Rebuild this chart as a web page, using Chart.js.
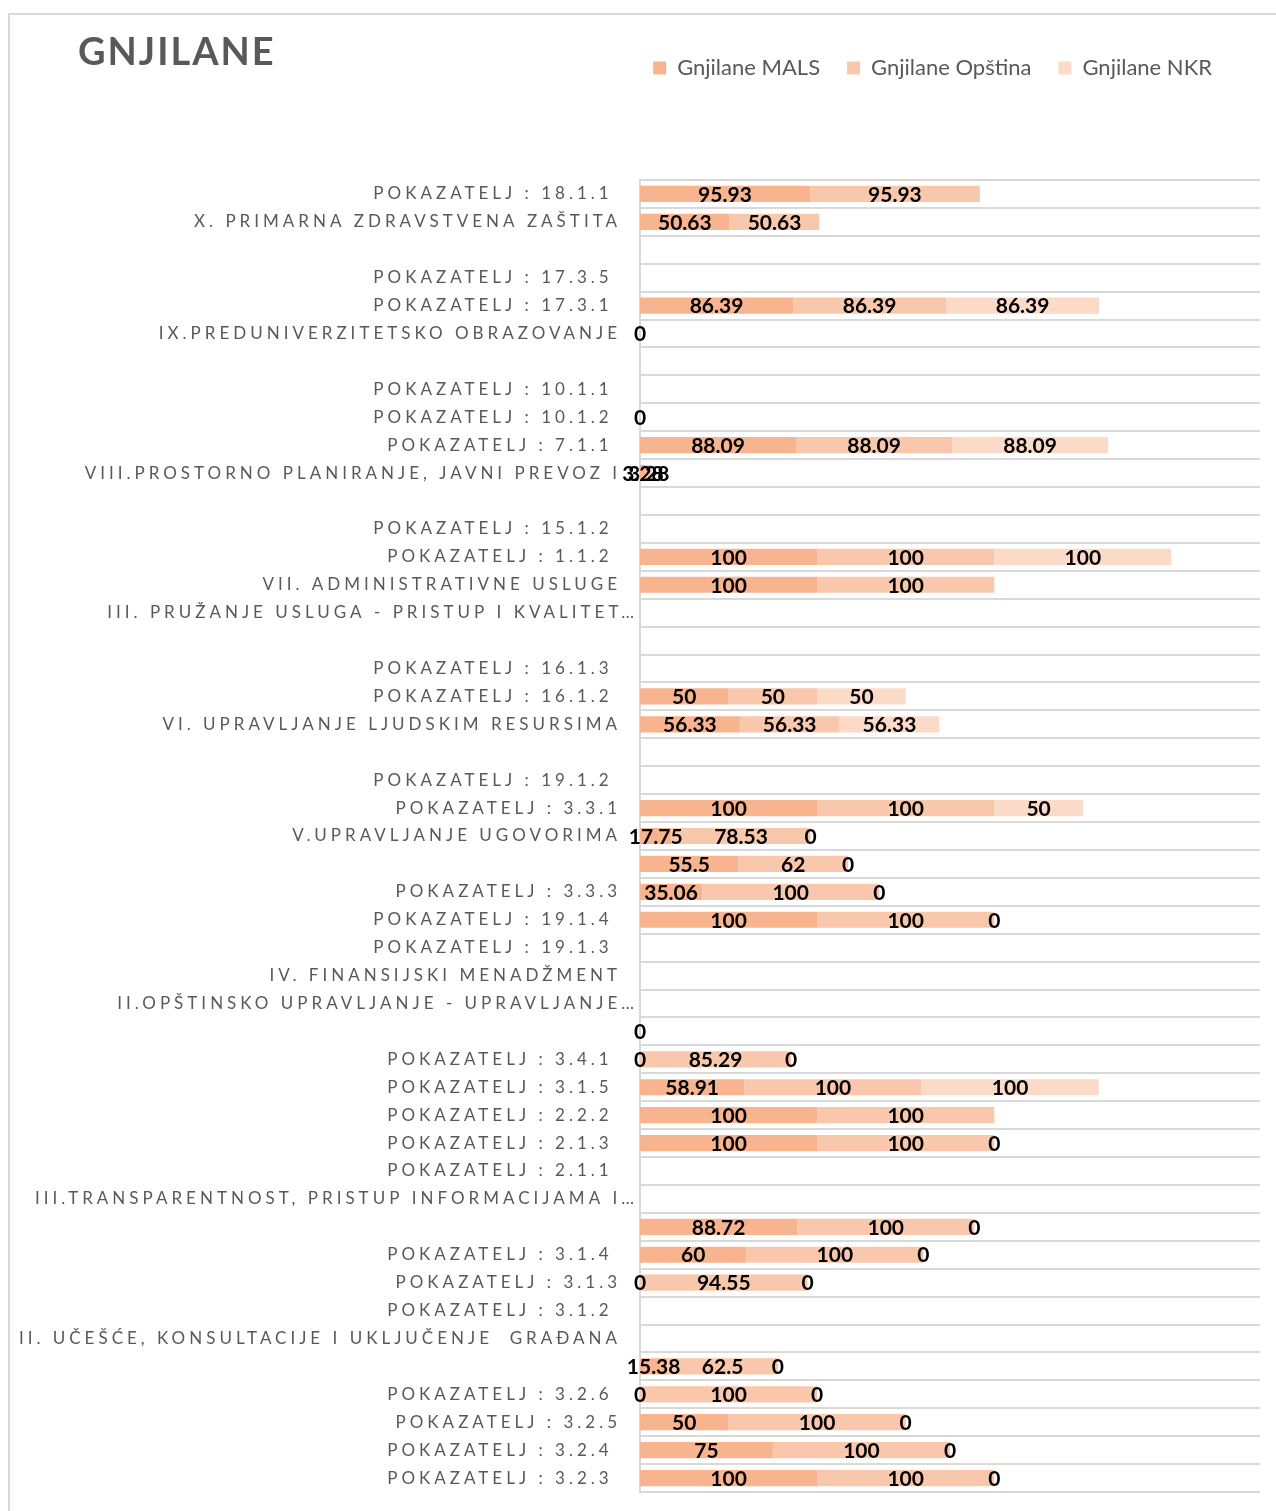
<!DOCTYPE html>
<html>
<head>
<meta charset="utf-8">
<script src="https://cdn.jsdelivr.net/npm/chart.js@4"></script>
<style>
  html, body { margin: 0; padding: 0; background: #ffffff; }
  #wrap { position: relative; width: 1276px; height: 1511px; }
</style>
</head>
<body>
<div id="wrap"><canvas id="c"></canvas></div>
<script>
const chartTitle = 'GNJILANE';
const seriesNames = ['Gnjilane MALS', 'Gnjilane Opština', 'Gnjilane NKR'];
const seriesColors = ['#F7B48E', '#F9C8AC', '#FBDAC8'];

const categories = [
  'POKAZATELJ : 18.1.1 ',
  'X. PRIMARNA ZDRAVSTVENA ZAŠTITA',
  '',
  'POKAZATELJ : 17.3.5 ',
  'POKAZATELJ : 17.3.1 ',
  'IX.PREDUNIVERZITETSKO OBRAZOVANJE',
  '',
  'POKAZATELJ : 10.1.1 ',
  'POKAZATELJ : 10.1.2 ',
  'POKAZATELJ : 7.1.1 ',
  'VIII.PROSTORNO PLANIRANJE, JAVNI PREVOZ I',
  '',
  'POKAZATELJ : 15.1.2 ',
  'POKAZATELJ : 1.1.2 ',
  'VII. ADMINISTRATIVNE USLUGE',
  'III. PRUŽANJE USLUGA - PRISTUP I KVALITET…',
  '',
  'POKAZATELJ : 16.1.3 ',
  'POKAZATELJ : 16.1.2 ',
  'VI. UPRAVLJANJE LJUDSKIM RESURSIMA',
  '',
  'POKAZATELJ : 19.1.2 ',
  'POKAZATELJ : 3.3.1',
  'V.UPRAVLJANJE UGOVORIMA',
  '',
  'POKAZATELJ : 3.3.3',
  'POKAZATELJ : 19.1.4 ',
  'POKAZATELJ : 19.1.3 ',
  'IV. FINANSIJSKI MENADŽMENT',
  'II.OPŠTINSKO UPRAVLJANJE - UPRAVLJANJE…',
  '',
  'POKAZATELJ : 3.4.1 ',
  'POKAZATELJ : 3.1.5 ',
  'POKAZATELJ : 2.2.2 ',
  'POKAZATELJ : 2.1.3 ',
  'POKAZATELJ : 2.1.1 ',
  'III.TRANSPARENTNOST, PRISTUP INFORMACIJAMA I…',
  '',
  'POKAZATELJ : 3.1.4 ',
  'POKAZATELJ : 3.1.3',
  'POKAZATELJ : 3.1.2 ',
  'II. UČEŠĆE, KONSULTACIJE I UKLJUČENJE  GRAĐANA',
  '',
  'POKAZATELJ : 3.2.6 ',
  'POKAZATELJ : 3.2.5',
  'POKAZATELJ : 3.2.4 ',
  'POKAZATELJ : 3.2.3 '
];

const malsValues = [
  95.93, 50.63, null, null, 86.39, 0, null, null, 0, 88.09,
  3.28, null, null, 100, 100, null, null, null, 50, 56.33,
  null, null, 100, 17.75, 55.5, 35.06, 100, null, null, null,
  0, 0, 58.91, 100, 100, null, null, 88.72, 60, 0,
  null, null, 15.38, 0, 50, 75, 100
];

const opstinaValues = [
  95.93, 50.63, null, null, 86.39, null, null, null, null, 88.09,
  3.28, null, null, 100, 100, null, null, null, 50, 56.33,
  null, null, 100, 78.53, 62, 100, 100, null, null, null,
  null, 85.29, 100, 100, 100, null, null, 100, 100, 94.55,
  null, null, 62.5, 100, 100, 100, 100
];

const nkrValues = [
  null, null, null, null, 86.39, null, null, null, null, 88.09,
  null, null, null, 100, null, null, null, null, 50, 56.33,
  null, null, 50, 0, 0, 0, 0, null, null, null,
  null, 0, 100, null, 0, null, null, 0, 0, 0,
  null, null, 0, 0, 0, 0, 0
];

const xMin = 0;
const xMax = 350;

const framePlugin = {
  id: 'frameAndTitle',
  afterLayout(chart) {
    if (chart.legend) { chart.legend.right -= 21; }
  },
  beforeDraw(chart) {
    const ctx = chart.ctx;
    ctx.save();
    ctx.strokeStyle = '#d9d9d9';
    ctx.lineWidth = 2;
    ctx.beginPath();
    ctx.moveTo(9, chart.height);
    ctx.lineTo(9, 14);
    ctx.lineTo(chart.width, 14);
    ctx.stroke();
    ctx.restore();
  },
  afterDraw(chart) {
    const ctx = chart.ctx;
    ctx.save();
    ctx.font = 'bold 38px Lato';
    ctx.letterSpacing = '2px';
    ctx.fillStyle = '#595959';
    ctx.textAlign = 'left';
    ctx.textBaseline = 'middle';
    ctx.fillText(chartTitle, 78, 53);
    ctx.restore();
  }
};

const spacedTicksPlugin = {
  id: 'spacedTicks',
  afterLayout(chart) {
    const ys = chart.scales.y;
    if (ys && !ys._spaced) {
      const origDraw = ys.drawLabels;
      const origGet = ys.getLabelItems;
      ys.getLabelItems = function (area) {
        const items = origGet.call(this, area);
        return items.map(it => {
          if (typeof it.label === 'string' && it.label.endsWith('…')) {
            const t = it.options.translation;
            return Object.assign({}, it, {
              options: Object.assign({}, it.options, { translation: [t[0] + 17, t[1]] })
            });
          }
          return it;
        });
      };
      ys.drawLabels = function (area) {
        const c = this.ctx;
        c.save();
        c.letterSpacing = '4px';
        origDraw.call(this, area);
        c.restore();
      };
      ys._spaced = true;
    }
  }
};

const valueLabelsPlugin = {
  id: 'valueLabels',
  afterDatasetsDraw(chart) {
    const ctx = chart.ctx;
    ctx.save();
    ctx.font = 'bold 21px Lato';
    ctx.fillStyle = '#000000';
    ctx.textAlign = 'center';
    ctx.textBaseline = 'middle';
    chart.data.datasets.forEach((ds, i) => {
      const meta = chart.getDatasetMeta(i);
      if (meta.hidden) return;
      meta.data.forEach((el, j) => {
        const v = ds.data[j];
        if (v === null || v === undefined) return;
        const p = el.getProps(['x', 'base', 'y'], true);
        ctx.fillText(String(v), (p.x + p.base) / 2, p.y + 1);
      });
    });
    ctx.restore();
  }
};

new Chart(document.getElementById('c'), {
  type: 'bar',
  data: {
    labels: categories,
    datasets: [
      { label: seriesNames[0], data: malsValues, backgroundColor: seriesColors[0] },
      { label: seriesNames[1], data: opstinaValues, backgroundColor: seriesColors[1] },
      { label: seriesNames[2], data: nkrValues, backgroundColor: seriesColors[2] }
    ]
  },
  options: {
    indexAxis: 'y',
    responsive: true,
    maintainAspectRatio: false,
    animation: false,
    datasets: { bar: { barPercentage: 0.58, categoryPercentage: 1, borderWidth: 0 } },
    layout: { padding: { top: 30, right: 16, bottom: 19, left: 0 } },
    plugins: {
      legend: {
        position: 'top',
        align: 'end',
        labels: {
          boxWidth: 13,
          boxHeight: 13,
          padding: 27,
          color: '#595959',
          font: { family: 'Lato', size: 22 }
        }
      },
      tooltip: { enabled: false },
      title: { display: false }
    },
    scales: {
      x: {
        position: 'top',
        stacked: true,
        min: xMin,
        max: xMax,
        grid: { display: false, drawTicks: false },
        border: { display: false },
        ticks: { display: false },
        afterFit(s) { s.height = 91; }
      },
      y: {
        stacked: true,
        grid: { color: '#d9d9d9', lineWidth: 2, drawTicks: false },
        border: { display: true, color: '#d9d9d9', width: 2 },
        ticks: {
          color: '#595959',
          font: { family: 'Lato', size: 17 },
          padding: 19,
          autoSkip: false
        },
        afterFit(s) {
          s.width = 640;
          s.paddingTop = 0;
          s.paddingBottom = 0;
        }
      }
    }
  },
  plugins: [framePlugin, spacedTicksPlugin, valueLabelsPlugin]
});
</script>
</body>
</html>
